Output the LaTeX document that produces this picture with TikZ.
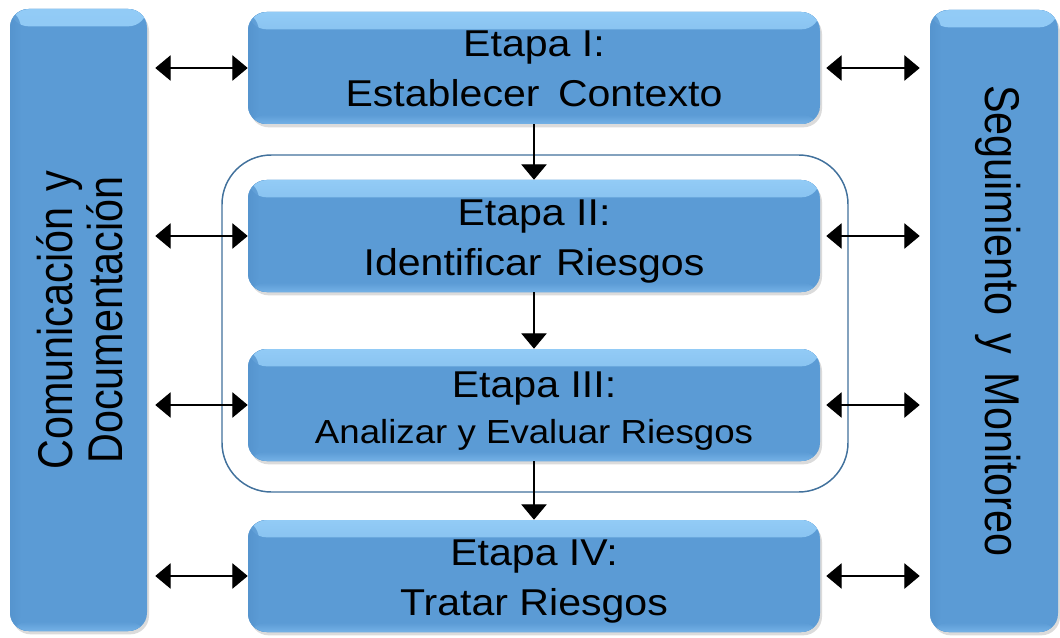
\documentclass[tikz,border=0pt]{standalone}
\usepackage{fontspec}
\setmainfont{Liberation Sans}
\usetikzlibrary{arrows.meta,shadows}
\definecolor{boxblue}{HTML}{5B9BD5}
\definecolor{hitop}{HTML}{92CBF6}
\definecolor{hibot}{HTML}{74B1E6}
\definecolor{sidedark}{HTML}{5290CA}
\definecolor{outl}{HTML}{41719C}
\newcommand{\htext}[2]{\raisebox{#1}[\height][\depth]{\scalebox{1.1}[1]{\begin{tabular}{@{}c@{}}#2\end{tabular}}}}
\newcommand{\vtext}[3]{\rotatebox{#1}{\raisebox{#2}[\height][\depth]{\scalebox{1}[1.18]{\begin{tabular}{@{}c@{}}#3\end{tabular}}}}}
\begin{document}
\begin{tikzpicture}[x=0.75pt,y=-0.75pt,
  box/.style={draw=none, fill=boxblue, rounded corners=14pt, inner sep=0pt,
    drop shadow={shadow xshift=1.5pt,shadow yshift=-2.5pt,opacity=0.28},
    path picture={
      \fill[top color=hitop, bottom color=boxblue]
        (path picture bounding box.north west) rectangle ([yshift=-13pt]path picture bounding box.north east);
      \fill[top color=boxblue, bottom color=hibot]
        ([yshift=7pt]path picture bounding box.south west) rectangle (path picture bounding box.south east);
      \fill[left color=sidedark, right color=boxblue, opacity=0.6]
        (path picture bounding box.south west) rectangle ([xshift=8pt]path picture bounding box.north west);
    }},
  stage/.style={box, minimum width=429pt, minimum height=84pt, font=\fontsize{28}{37.5}\selectfont},
  biarr/.style={{Triangle[length=11.5pt,width=19pt]}-{Triangle[length=11.5pt,width=19pt]}, line width=0.8pt},
  darr/.style={-{Triangle[length=11.5pt,width=19pt]}, line width=0.8pt},
  grpbox/.style={draw=outl, line width=1.1pt, rounded corners=37pt}
]
\useasboundingbox (0,0) rectangle (1060,638);
\fill[white] (0,0) rectangle (1060,638);

% group outline
\node[grpbox, minimum width=469.5pt, minimum height=252.75pt] (grp) at (535,323.5) {};

% side boxes
\node[box, minimum width=102.75pt, minimum height=466.5pt, font=\fontsize{31}{30.5}\selectfont]
  (L) at (78.5,320) {\vtext{90}{-6pt}{Comunicación\hspace{0.4em}y\\Documentación}};
\node[box, minimum width=96pt, minimum height=466.5pt, font=\fontsize{31}{30.5}\selectfont]
  (R) at (994,321) {\vtext{-90}{1.5pt}{Seguimiento\hspace{0.45em}y\hspace{0.45em}Monitoreo}};

% stage boxes
\node[stage] (b1) at (534,68) {\htext{-3pt}{Etapa I:\\Establecer\hspace{0.45em}Contexto}};
\node[stage] (b2) at (534,236) {\htext{-3pt}{Etapa II:\\Identificar\hspace{0.35em}Riesgos}};
\node[stage, font=\fontsize{28}{34.5}\selectfont] (b3) at (534,405)
  {\htext{-4.5pt}{Etapa III:\\\fontsize{25}{34.5}\selectfont Analizar y Evaluar Riesgos}};
\node[stage] (b4) at (534,576) {\htext{-3pt}{Etapa IV:\\Tratar Riesgos}};

% vertical flow
\draw[darr] (b1.south) -- (b2.north);
\draw[darr] (b2.south) -- (b3.north);
\draw[darr] (b3.south) -- (b4.north);

% side connectors
\foreach \b in {b1,b2,b3,b4}{
  \draw[biarr, shorten <=6pt] (L.east |- \b) -- (\b.west);
  \draw[biarr, shorten <=4.5pt, shorten >=7.5pt] (\b.east) -- (R.west |- \b);
}
\end{tikzpicture}
\end{document}
